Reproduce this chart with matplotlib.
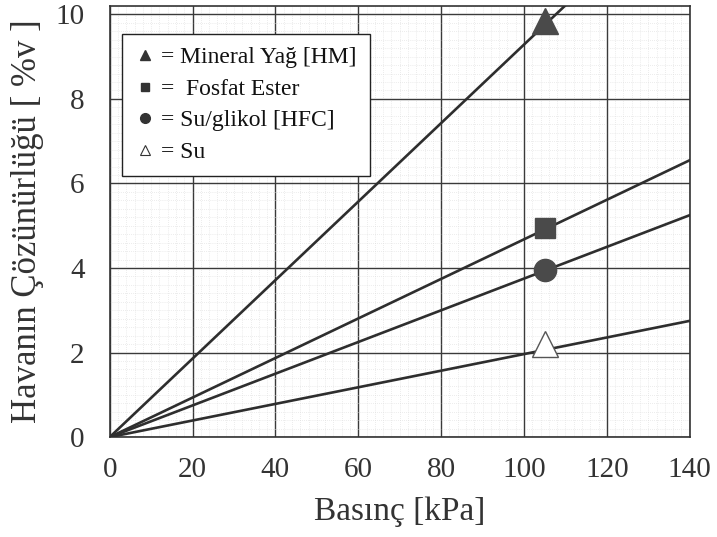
import matplotlib
matplotlib.use("Agg")
import matplotlib.pyplot as plt
from matplotlib.ticker import MultipleLocator

# Data
pressure_line = [0, 140]           # kPa, line end points
mineral_line = [0, 13.0]           # %v (line clipped at top of axes)
fosfat_line = [0, 6.55]
glikol_line = [0, 5.25]
su_line = [0, 2.75]

marker_pressure = [105]
mineral_pt = [9.85]
fosfat_pt = [4.95]
glikol_pt = [3.95]
su_pt = [2.2]

x_ticks = [0, 20, 40, 60, 80, 100, 120, 140]
y_ticks = [0, 2, 4, 6, 8, 10]
y_tick_labels = ["0", "2", "4", "6", "8", "10"]

labels = ["= Mineral Yağ [HM]", "=  Fosfat Ester", "= Su/glikol [HFC]", "= Su"]

plt.rcParams['font.family'] = ['Liberation Serif', 'DejaVu Serif']

fig = plt.figure(figsize=(7.17, 5.37), dpi=100)
ax = fig.add_axes([0.153, 0.186, 0.809, 0.803])

line_kw = dict(color="#2e2e2e", lw=1.9, zorder=3)
ax.plot(pressure_line, mineral_line, **line_kw)
ax.plot(pressure_line, fosfat_line, **line_kw)
ax.plot(pressure_line, glikol_line, **line_kw)
ax.plot(pressure_line, su_line, **line_kw)

mc = "#4a4a4a"
ax.plot(marker_pressure, mineral_pt, marker="^", ms=19, color=mc, ls="none", zorder=4, clip_on=False)
ax.plot(marker_pressure, fosfat_pt, marker="s", ms=15, color=mc, ls="none", zorder=4)
ax.plot(marker_pressure, glikol_pt, marker="o", ms=16, color=mc, ls="none", zorder=4)
ax.plot(marker_pressure, su_pt, marker="^", ms=19, mfc="white", mec="#555555", mew=1.0, ls="none", zorder=4)

# legend handles
h1, = ax.plot([], [], marker="^", ms=7, color="#333333", ls="none")
h2, = ax.plot([], [], marker="s", ms=6, color="#333333", ls="none")
h3, = ax.plot([], [], marker="o", ms=7, color="#333333", ls="none")
h4, = ax.plot([], [], marker="^", ms=7, mfc="white", mec="#333333", mew=0.8, ls="none")
leg = ax.legend([h1, h2, h3, h4], labels, loc="upper left",
                bbox_to_anchor=(0.022, 0.935), fontsize=17, frameon=True,
                fancybox=False, edgecolor="#222222", framealpha=1,
                handlelength=0.8, handletextpad=0.3, labelspacing=0.42,
                borderpad=0.55, borderaxespad=0)
leg.get_frame().set_linewidth(1.0)
leg.set_zorder(5)
for t in leg.get_texts():
    t.set_color("#111111")

ax.set_xlim(0, 140)
ax.set_ylim(0, 10.2)
ax.set_xticks(x_ticks)
ax.set_yticks(y_ticks)
ax.set_yticklabels(y_tick_labels)
ax.xaxis.set_minor_locator(MultipleLocator(2))
ax.yaxis.set_minor_locator(MultipleLocator(0.2))

ax.grid(which="major", color="#3a3a3a", lw=1.0, zorder=1)
ax.grid(which="minor", color="#dadada", lw=0.5, ls=(0, (1, 2)), zorder=0)
ax.set_axisbelow(True)

for s in ax.spines.values():
    s.set_color("#333333")
    s.set_linewidth(1.2)

ax.tick_params(which="both", length=0, labelsize=21, colors="#333333", pad=14)
ax.tick_params(axis="y", pad=18)

ax.set_xlabel("Basınç [kPa]", fontsize=24, color="#333333", labelpad=10)
ax.set_ylabel("Havanın Çözünürlüğü [ %v ]", fontsize=25, color="#333333", labelpad=8)

fig.savefig("out.png", dpi=100)
